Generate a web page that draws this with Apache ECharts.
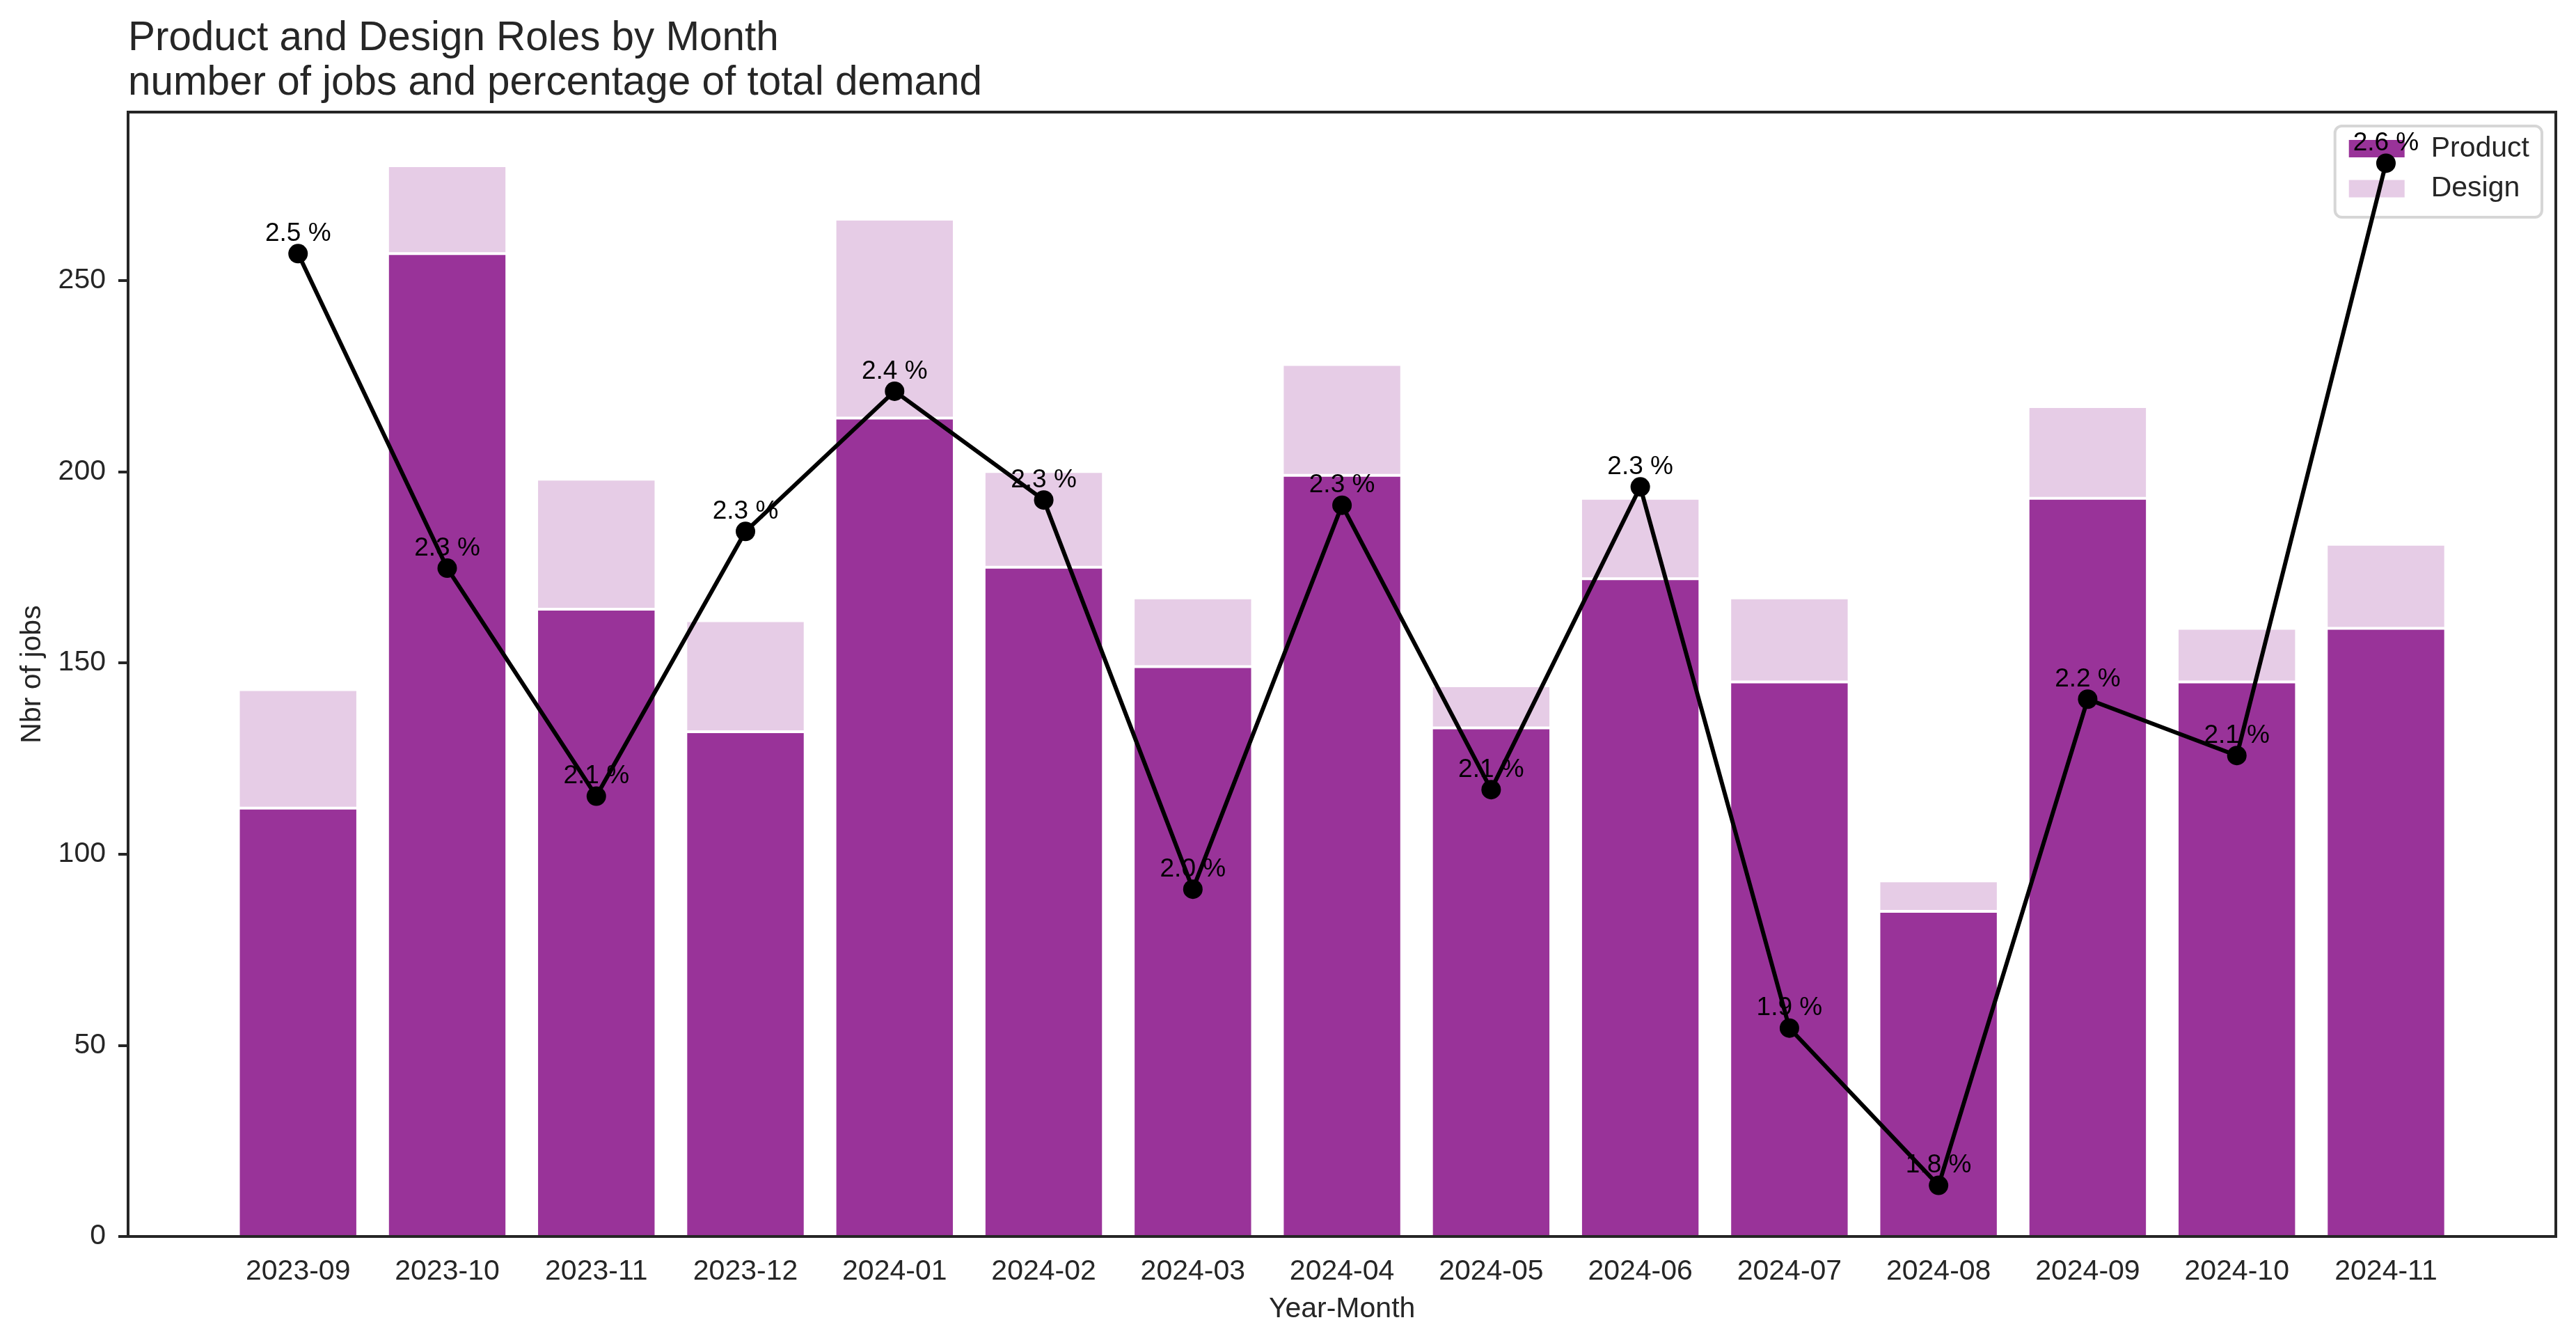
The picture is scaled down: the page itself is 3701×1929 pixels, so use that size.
<!DOCTYPE html>
<html>
<head>
<meta charset="utf-8">
<script src="https://cdn.jsdelivr.net/npm/echarts@6/dist/echarts.min.js"></script>
<style>
html,body{margin:0;padding:0;background:#ffffff;}
#chart{width:3701px;height:1929px;}
</style>
</head>
<body>
<div id="chart"></div>
<script>
// ---- data ----
const months = ['2023-09','2023-10','2023-11','2023-12','2024-01','2024-02','2024-03','2024-04','2024-05','2024-06','2024-07','2024-08','2024-09','2024-10','2024-11'];
const productJobs = [112, 257, 164, 132, 214, 175, 149, 199, 133, 172, 145, 85, 193, 145, 159];
const designJobs  = [31, 23, 34, 29, 52, 25, 18, 29, 11, 21, 22, 8, 24, 14, 22];
const demandPct   = [2.511, 2.271, 2.097, 2.299, 2.406, 2.323, 2.026, 2.319, 2.102, 2.333, 1.920, 1.800, 2.171, 2.128, 2.580];
const yTicks = [0, 50, 100, 150, 200, 250];

// ---- layout / style ----
const FONT = '"Liberation Sans", Arial, Helvetica, sans-serif';
const TXT = '#262626';
const PLOT = {left: 184, right: 29, top: 161, bottom: 153};
const INNER = {left: 321.1, right: 165.9};

const totals = productJobs.map((p, i) => p + designJobs[i]);
const yMax = Math.max(...totals) * 1.05;
const pMin = Math.min(...demandPct), pMaxV = Math.max(...demandPct);
const pRange = pMaxV - pMin;

const chart = echarts.init(document.getElementById('chart'), null, {renderer: 'canvas'});

const option = {
  animation: false,
  backgroundColor: '#ffffff',
  textStyle: {fontFamily: FONT},
  title: {
    text: 'Product and Design Roles by Month\nnumber of jobs and percentage of total demand',
    left: 184,
    top: 24,
    padding: 0,
    textStyle: {fontFamily: FONT, fontSize: 58.4, fontWeight: 'normal', color: TXT, lineHeight: 64}
  },
  legend: {
    data: ['Product', 'Design'],
    orient: 'vertical',
    right: 49,
    top: 181,
    z: 3,
    icon: 'rect',
    itemWidth: 82,
    itemHeight: 27,
    itemGap: 8.5,
    padding: [8, 18, 16.5, 18],
    backgroundColor: 'rgba(255,255,255,0.8)',
    borderColor: '#d6d6d6',
    borderWidth: 4,
    borderRadius: 10,
    textStyle: {fontFamily: FONT, fontSize: 41, color: TXT, lineHeight: 41, padding: [8, 0, 0, 32]}
  },
  grid: [
    {left: PLOT.left, right: PLOT.right, top: PLOT.top, bottom: PLOT.bottom, show: true,
     borderColor: TXT, borderWidth: 4, backgroundColor: 'transparent', z: 3},
    {left: INNER.left, right: INNER.right, top: PLOT.top, bottom: PLOT.bottom}
  ],
  xAxis: [
    {gridIndex: 0, type: 'value', min: 0, max: 1, show: false},
    {gridIndex: 1, type: 'category', data: months, boundaryGap: true,
     axisLine: {show: false}, axisTick: {show: false}, splitLine: {show: false},
     axisLabel: {interval: 0, margin: 30, fontFamily: FONT, fontSize: 41, lineHeight: 41, color: TXT},
     name: 'Year-Month', nameLocation: 'middle', nameGap: 84,
     nameTextStyle: {fontFamily: FONT, fontSize: 41, lineHeight: 41, color: TXT}}
  ],
  yAxis: [
    {gridIndex: 0, type: 'value', min: 0, max: yMax, interval: 50,
     axisLine: {show: false},
     axisTick: {show: true, length: 14, lineStyle: {color: TXT, width: 4}, customValues: yTicks},
     axisLabel: {margin: 32, fontFamily: FONT, fontSize: 41, color: TXT, customValues: yTicks,
                 formatter: v => (yTicks.indexOf(v) >= 0 ? String(v) : '')},
     splitLine: {show: false},
     name: 'Nbr of jobs', nameLocation: 'middle', nameGap: 117,
     nameTextStyle: {fontFamily: FONT, fontSize: 41, lineHeight: 41, color: TXT}},
    {gridIndex: 1, type: 'value', min: 0, max: yMax, show: false, splitLine: {show: false}},
    {gridIndex: 1, type: 'value', min: pMin - 0.05 * pRange, max: pMaxV + 0.05 * pRange, show: false, splitLine: {show: false}}
  ],
  series: [
    {name: 'Product', type: 'bar', xAxisIndex: 1, yAxisIndex: 1, stack: 'jobs', data: productJobs,
     barWidth: 171.4, z: 2,
     itemStyle: {color: '#993399', borderColor: '#ffffff', borderWidth: 2}},
    {name: 'Design', type: 'bar', xAxisIndex: 1, yAxisIndex: 1, stack: 'jobs', data: designJobs,
     barWidth: 171.4, z: 2,
     itemStyle: {color: '#e6cce6', borderColor: '#ffffff', borderWidth: 2}},
    {name: 'pct', type: 'line', xAxisIndex: 1, yAxisIndex: 2, data: demandPct, z: 5,
     symbol: 'circle', symbolSize: 28,
     lineStyle: {color: '#000000', width: 6},
     itemStyle: {color: '#000000'},
     label: {show: true, position: 'top', distance: -4, fontFamily: FONT, fontSize: 37, lineHeight: 37,
             color: '#000000', formatter: p => p.value.toFixed(1) + ' %'}}
  ]
};
chart.setOption(option);
</script>
</body>
</html>
